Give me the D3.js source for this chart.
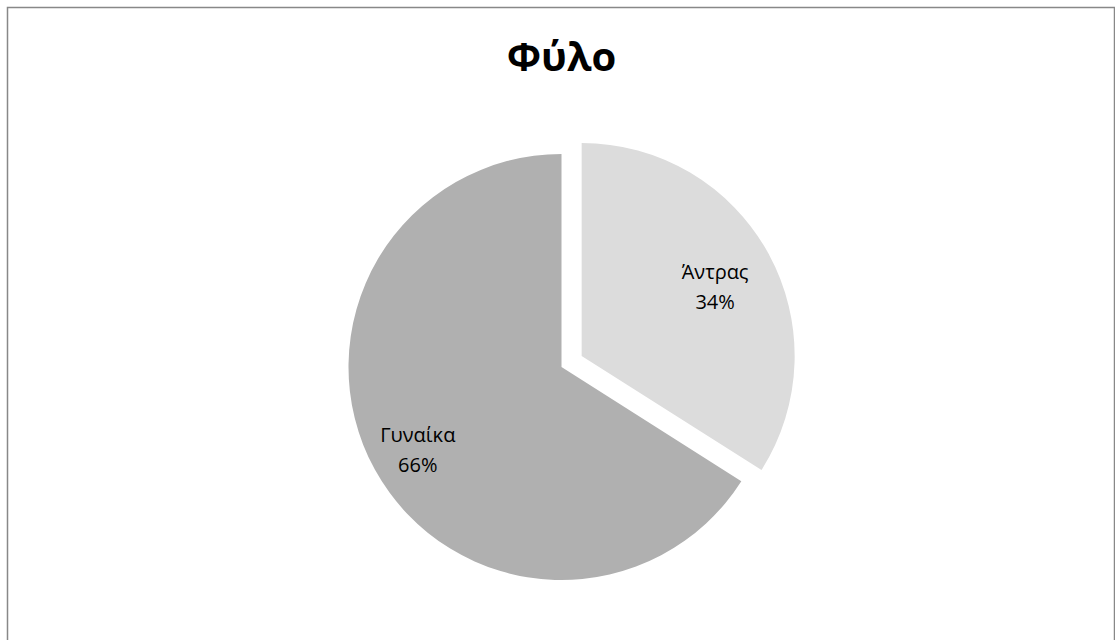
<!DOCTYPE html>
<html>
<head>
<meta charset="utf-8">
<script src="https://cdn.jsdelivr.net/npm/d3@7"></script>
<style>
  html, body { margin: 0; padding: 0; background: #ffffff; }
  svg { display: block; }
</style>
</head>
<body>
<svg id="chart" width="1115" height="640"></svg>
<script>
// Gender breakdown (percent of respondents)
const categories = ["Άντρας", "Γυναίκα"];
const values = [34, 66];
const colors = ["#dcdcdc", "#b0b0b0"];
const explode = [23, 0];            // outward offset of each slice, px
const labelRadius = [0.715, 0.77];  // label distance as fraction of radius
const title = "Φύλο";

const W = 1115, H = 640;
const cx = 561.5, cy = 367, R = 213;
const font = "'Open Sans', 'Noto Sans', sans-serif";

const svg = d3.select("#chart");

// chart frame
svg.append("rect")
  .attr("x", 7.5).attr("y", 7.5)
  .attr("width", W - 8).attr("height", H)
  .attr("fill", "#ffffff")
  .attr("stroke", "#888888")
  .attr("stroke-width", 1.5);

svg.append("text")
  .attr("x", cx).attr("y", 71)
  .attr("text-anchor", "middle")
  .attr("font-family", font)
  .attr("font-weight", "bold")
  .attr("font-size", 40)
  .attr("fill", "#000000")
  .text(title);

const data = categories.map((c, i) => ({ name: c, value: values[i], i }));
const total = d3.sum(values);

const pie = d3.pie().sort(null).value(d => d.value);
const arc = d3.arc().innerRadius(0).outerRadius(R);
const arcs = pie(data);

const g = svg.append("g").attr("transform", `translate(${cx},${cy})`);

const slice = g.selectAll("g.slice")
  .data(arcs)
  .join("g")
  .attr("class", "slice")
  .attr("transform", d => {
    const a = (d.startAngle + d.endAngle) / 2;
    const off = explode[d.data.i];
    return `translate(${Math.sin(a) * off},${-Math.cos(a) * off})`;
  });

slice.append("path")
  .attr("d", arc)
  .attr("fill", d => colors[d.data.i]);

const labels = slice.append("text")
  .attr("transform", d => {
    const r = R * labelRadius[d.data.i];
    const la = d3.arc().innerRadius(r).outerRadius(r);
    const [x, y] = la.centroid(d);
    return `translate(${x},${y})`;
  })
  .attr("text-anchor", "middle")
  .attr("font-family", font)
  .attr("font-size", 20)
  .attr("fill", "#000000");

labels.append("tspan")
  .attr("x", 0).attr("dy", "-0.2em")
  .text(d => d.data.name);
labels.append("tspan")
  .attr("x", 0).attr("dy", 30)
  .text(d => Math.round(d.data.value / total * 100) + "%");
</script>
</body>
</html>
